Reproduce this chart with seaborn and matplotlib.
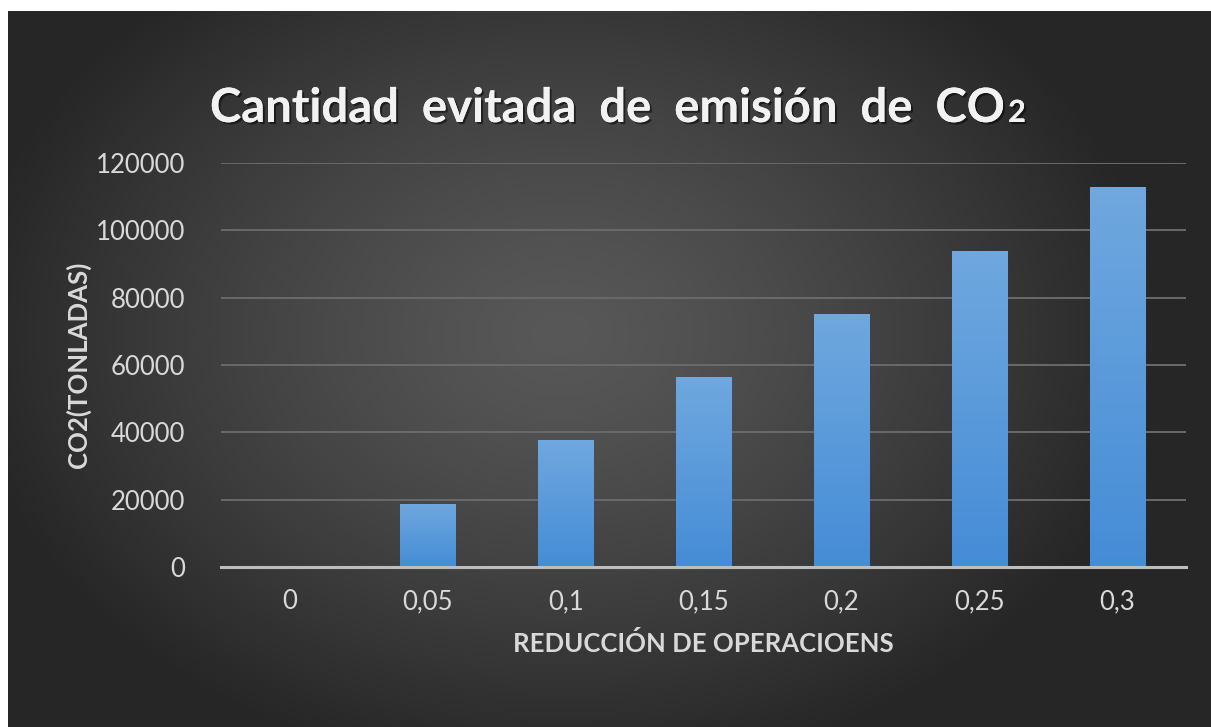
import numpy as np
import pandas as pd
import matplotlib
matplotlib.use("Agg")
import matplotlib.pyplot as plt
import matplotlib.patheffects as pe
import seaborn as sns

# Reduction levels and avoided CO2 (tonnes)
reduccion = ["0", "0,05", "0,1", "0,15", "0,2", "0,25", "0,3"]
co2_evitado = [0, 18800, 37600, 56400, 75200, 94000, 112800]
y_ticks = [0, 20000, 40000, 60000, 80000, 100000, 120000]

df = pd.DataFrame({"reduccion": reduccion, "co2": co2_evitado})

sns.set_theme(style="white")
plt.rcParams["font.family"] = ["Lato", "DejaVu Sans"]

W, H = 1211, 727
fig = plt.figure(figsize=(W / 100, H / 100), dpi=100)
fig.patch.set_facecolor("white")

# Dark panel with a soft radial glow
bg = fig.add_axes([8 / W, 0, 1 - 8 / W, 1 - 11 / H])
bg.set_axis_off()
gx, gy = np.meshgrid(np.linspace(-1, 1, 400), np.linspace(-1, 1, 300))
r = np.sqrt(((gx + 0.08) / 1.0) ** 2 + ((gy + 0.1) / 1.25) ** 2)
r = np.clip(r, 0, 1)
lo, hi = 0x26 / 255, 0x58 / 255
shade = hi - (hi - lo) * r ** 1.3
bg.imshow(np.dstack([shade, shade, shade]), aspect="auto", extent=[0, 1, 0, 1])
bg.set_xlim(0, 1)
bg.set_ylim(0, 1)

ax = fig.add_axes([221 / W, 1 - 567 / H, (1186 - 221) / W, (567 - 163) / H])
ax.patch.set_alpha(0)

sns.barplot(data=df, x="reduccion", y="co2", ax=ax, color="#5b9bd5",
            width=0.4, saturation=1, edgecolor="#2e5f8f", linewidth=0.8,
            zorder=3)

# Vertical blue gradient inside each bar
grad = np.linspace(0, 1, 256).reshape(-1, 1)
top_c = np.array([0x70, 0xa8, 0xdf]) / 255
bot_c = np.array([0x45, 0x8c, 0xd6]) / 255
img = top_c * (1 - grad)[..., None] + bot_c * grad[..., None]
for p in ax.patches:
    h = p.get_height()
    if h <= 0:
        continue
    x0 = p.get_x()
    w = p.get_width()
    im = ax.imshow(img, aspect="auto", extent=[x0, x0 + w, 0, h],
                   zorder=3.5, interpolation="bicubic")
    im.set_clip_path(p)

ax.set_xlim(-0.5, len(reduccion) - 0.5)
ax.set_ylim(0, 120000)
ax.set_yticks(y_ticks)
ax.set_yticklabels([str(v) for v in y_ticks])

ax.grid(axis="y", color="#6a6a6a", linewidth=1.4, zorder=0)
ax.grid(axis="x", visible=False)
for s in ["top", "right", "left"]:
    ax.spines[s].set_visible(False)
ax.spines["bottom"].set_color("#bdbdbd")
ax.spines["bottom"].set_linewidth(2.2)
ax.spines["bottom"].set_zorder(5)
ax.tick_params(axis="both", length=0, colors="#d9d9d9", labelsize=18.5)
ax.tick_params(axis="y", pad=26)
ax.tick_params(axis="x", pad=16)

ax.set_xlabel("REDUCCIÓN DE OPERACIOENS", color="#d9d9d9", fontsize=18.5,
              fontweight="bold", labelpad=12)
ax.set_ylabel("CO2(TONLADAS)", color="#d9d9d9", fontsize=18.5,
              fontweight="bold", labelpad=3)

# Title with small trailing "2"
shadow = [pe.withSimplePatchShadow(offset=(1.5, -1.5), shadow_rgbFace="black", alpha=0.5),
          pe.Normal()]
t1 = fig.text(210 / W, 1 - 122 / H, "Cantidad  evitada  de  emisión  de  CO",
              color="#f2f2f2", fontsize=34, fontweight="bold",
              ha="left", va="baseline", path_effects=shadow)
fig.canvas.draw()
bb = t1.get_window_extent()
fig.text((bb.x1 + 2) / W, 1 - 122 / H, "2", color="#f2f2f2", fontsize=22,
         fontweight="bold", ha="left", va="baseline", path_effects=shadow)

fig.savefig("out.png", dpi=100, facecolor=fig.get_facecolor())
